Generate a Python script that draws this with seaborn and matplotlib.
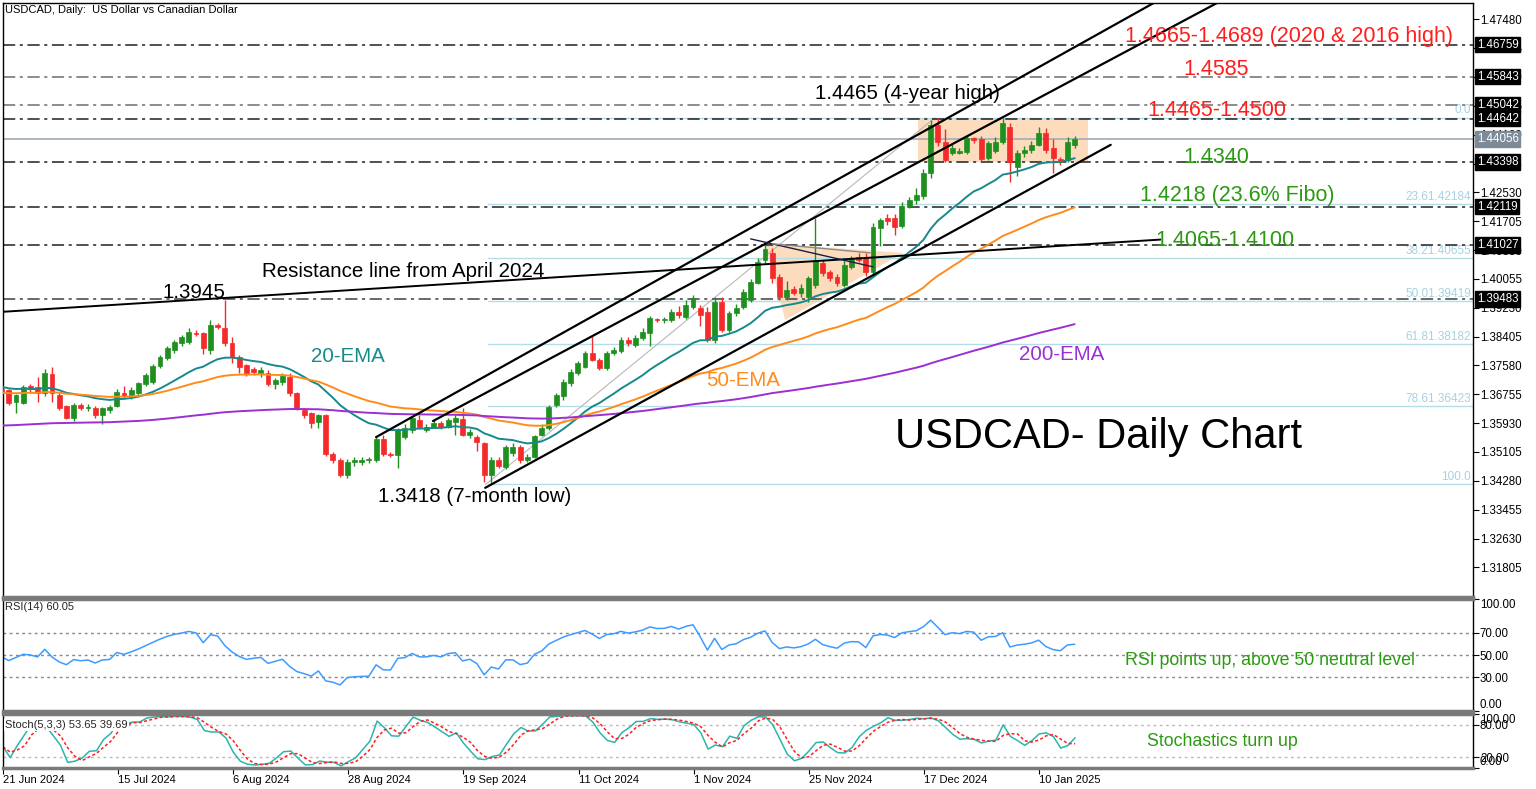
import numpy as np
import pandas as pd
import matplotlib
matplotlib.use('Agg')
import matplotlib.pyplot as plt
import matplotlib.transforms as mtransforms
from matplotlib.patches import Rectangle, Polygon
import seaborn as sns

sns.set_theme(style='white')
plt.rcParams['font.family'] = ['Liberation Sans', 'DejaVu Sans']

# daily candles, 21 Jun 2024 -> 17 Jan 2025 (bar index = trading day)
opens = [1.3690, 1.3688, 1.3654, 1.3650, 1.3699, 1.3697, 1.3678, 1.3733, 1.3673, 1.3642,
         1.3607, 1.3645, 1.3635, 1.3637, 1.3616, 1.3630, 1.3642, 1.3680, 1.3669, 1.3678,
         1.3705, 1.3711, 1.3756, 1.3780, 1.3802, 1.3823, 1.3826, 1.3852, 1.3850, 1.3802,
         1.3873, 1.3864, 1.3823, 1.3783, 1.3759, 1.3747, 1.3735, 1.3735, 1.3705, 1.3711,
         1.3726, 1.3678, 1.3631, 1.3621, 1.3597, 1.3616, 1.3506, 1.3487, 1.3444, 1.3483,
         1.3483, 1.3487, 1.3487, 1.3549, 1.3506, 1.3502, 1.3554, 1.3573, 1.3602, 1.3573,
         1.3583, 1.3594, 1.3583, 1.3597, 1.3604, 1.3559, 1.3554, 1.3535, 1.3445, 1.3489,
         1.3468, 1.3509, 1.3526, 1.3488, 1.3497, 1.3558, 1.3578, 1.3645, 1.3670, 1.3707,
         1.3735, 1.3755, 1.3793, 1.3774, 1.3750, 1.3793, 1.3798, 1.3831, 1.3817, 1.3836,
         1.3850, 1.3890, 1.3887, 1.3888, 1.3912, 1.3898, 1.3926, 1.3921, 1.3912, 1.3831,
         1.3940, 1.3860, 1.3907, 1.3926, 1.3945, 1.3993, 1.4060, 1.4079, 1.4012, 1.3955,
         1.3976, 1.3965, 1.3955, 1.3988, 1.4050, 1.4026, 1.4012, 1.3988, 1.4041, 1.4067,
         1.4065, 1.4024, 1.4150, 1.4180, 1.4180, 1.4158, 1.4215, 1.4230, 1.4243, 1.4307,
         1.4446, 1.4398, 1.4365, 1.4367, 1.4369, 1.4408, 1.4405, 1.4350, 1.4370, 1.4398,
         1.4439, 1.4327, 1.4365, 1.4374, 1.4389, 1.4422, 1.4379, 1.4348, 1.4346, 1.4388]
highs = [1.3700, 1.3692, 1.3676, 1.3702, 1.3705, 1.3726, 1.3747, 1.3754, 1.3680, 1.3645,
         1.3650, 1.3650, 1.3648, 1.3642, 1.3640, 1.3645, 1.3690, 1.3700, 1.3695, 1.3712,
         1.3736, 1.3762, 1.3788, 1.3815, 1.3830, 1.3845, 1.3865, 1.3860, 1.3855, 1.3888,
         1.3880, 1.3946, 1.3840, 1.3788, 1.3762, 1.3755, 1.3755, 1.3745, 1.3722, 1.3735,
         1.3735, 1.3682, 1.3636, 1.3625, 1.3620, 1.3620, 1.3510, 1.3492, 1.3490, 1.3495,
         1.3495, 1.3496, 1.3555, 1.3560, 1.3510, 1.3578, 1.3590, 1.3612, 1.3615, 1.3590,
         1.3605, 1.3600, 1.3608, 1.3615, 1.3637, 1.3575, 1.3560, 1.3540, 1.3495, 1.3495,
         1.3530, 1.3535, 1.3530, 1.3505, 1.3560, 1.3590, 1.3645, 1.3680, 1.3718, 1.3748,
         1.3770, 1.3800, 1.3845, 1.3778, 1.3798, 1.3810, 1.3840, 1.3838, 1.3845, 1.3865,
         1.3900, 1.3895, 1.3898, 1.3920, 1.3928, 1.3945, 1.3960, 1.3930, 1.3925, 1.3955,
         1.3955, 1.3915, 1.3935, 1.3978, 1.4005, 1.4065, 1.4105, 1.4095, 1.4020, 1.4000,
         1.3985, 1.3990, 1.4015, 1.4179, 1.4060, 1.4032, 1.4020, 1.4065, 1.4072, 1.4080,
         1.4080, 1.4165, 1.4180, 1.4190, 1.4190, 1.4225, 1.4240, 1.4265, 1.4320, 1.4460,
         1.4467, 1.4433, 1.4395, 1.4380, 1.4415, 1.4412, 1.4415, 1.4400, 1.4410, 1.4465,
         1.4450, 1.4375, 1.4385, 1.4400, 1.4440, 1.4437, 1.4407, 1.4355, 1.4410, 1.4415]
lows = [1.3672, 1.3645, 1.3621, 1.3648, 1.3680, 1.3654, 1.3670, 1.3654, 1.3630, 1.3605,
        1.3600, 1.3630, 1.3628, 1.3608, 1.3590, 1.3622, 1.3638, 1.3665, 1.3662, 1.3672,
        1.3700, 1.3705, 1.3750, 1.3775, 1.3795, 1.3815, 1.3820, 1.3842, 1.3790, 1.3792,
        1.3862, 1.3815, 1.3765, 1.3735, 1.3728, 1.3730, 1.3725, 1.3700, 1.3690, 1.3702,
        1.3672, 1.3630, 1.3608, 1.3580, 1.3580, 1.3500, 1.3478, 1.3438, 1.3436, 1.3470,
        1.3472, 1.3480, 1.3482, 1.3498, 1.3495, 1.3466, 1.3548, 1.3565, 1.3578, 1.3568,
        1.3578, 1.3575, 1.3578, 1.3560, 1.3555, 1.3550, 1.3512, 1.3425, 1.3418, 1.3465,
        1.3462, 1.3500, 1.3480, 1.3482, 1.3492, 1.3555, 1.3572, 1.3640, 1.3660, 1.3700,
        1.3730, 1.3750, 1.3770, 1.3745, 1.3745, 1.3788, 1.3795, 1.3815, 1.3810, 1.3830,
        1.3815, 1.3882, 1.3880, 1.3882, 1.3895, 1.3892, 1.3920, 1.3872, 1.3825, 1.3822,
        1.3855, 1.3855, 1.3900, 1.3920, 1.3940, 1.3990, 1.4050, 1.3995, 1.3945, 1.3945,
        1.3960, 1.3955, 1.3940, 1.3980, 1.4015, 1.4000, 1.3985, 1.3982, 1.4035, 1.4055,
        1.4015, 1.4018, 1.4100, 1.4160, 1.4130, 1.4150, 1.4208, 1.4220, 1.4235, 1.4295,
        1.4385, 1.4341, 1.4360, 1.4362, 1.4362, 1.4395, 1.4342, 1.4345, 1.4365, 1.4392,
        1.4284, 1.4300, 1.4355, 1.4365, 1.4385, 1.4365, 1.4308, 1.4330, 1.4340, 1.4380]
closes = [1.3683, 1.3650, 1.3673, 1.3697, 1.3692, 1.3678, 1.3735, 1.3678, 1.3635, 1.3609,
          1.3645, 1.3635, 1.3640, 1.3616, 1.3635, 1.3638, 1.3683, 1.3671, 1.3688, 1.3707,
          1.3731, 1.3756, 1.3783, 1.3807, 1.3826, 1.3838, 1.3854, 1.3848, 1.3807, 1.3875,
          1.3869, 1.3821, 1.3783, 1.3754, 1.3733, 1.3740, 1.3745, 1.3705, 1.3716, 1.3727,
          1.3678, 1.3635, 1.3616, 1.3592, 1.3616, 1.3506, 1.3487, 1.3444, 1.3483, 1.3487,
          1.3489, 1.3490, 1.3549, 1.3504, 1.3502, 1.3573, 1.3578, 1.3607, 1.3583, 1.3583,
          1.3592, 1.3583, 1.3602, 1.3607, 1.3559, 1.3568, 1.3540, 1.3445, 1.3488, 1.3470,
          1.3526, 1.3526, 1.3488, 1.3497, 1.3555, 1.3580, 1.3640, 1.3674, 1.3712, 1.3740,
          1.3764, 1.3793, 1.3774, 1.3750, 1.3793, 1.3802, 1.3831, 1.3822, 1.3836, 1.3855,
          1.3895, 1.3888, 1.3890, 1.3912, 1.3902, 1.3931, 1.3950, 1.3902, 1.3831, 1.3940,
          1.3860, 1.3907, 1.3921, 1.3969, 1.3998, 1.4055, 1.4090, 1.4007, 1.3955, 1.3974,
          1.3966, 1.3979, 1.4007, 1.4060, 1.4022, 1.4007, 1.3995, 1.4046, 1.4062, 1.4060,
          1.4024, 1.4155, 1.4174, 1.4170, 1.4155, 1.4215, 1.4232, 1.4245, 1.4307, 1.4446,
          1.4398, 1.4346, 1.4379, 1.4372, 1.4408, 1.4403, 1.4348, 1.4393, 1.4398, 1.4450,
          1.4341, 1.4365, 1.4374, 1.4389, 1.4422, 1.4374, 1.4350, 1.4341, 1.4398, 1.4405]

date_ticks = [0, 16, 32, 48, 64, 80, 96, 112, 128, 144]
date_labels = ['21 Jun 2024', '15 Jul 2024', '6 Aug 2024', '28 Aug 2024', '19 Sep 2024',
               '11 Oct 2024', '1 Nov 2024', '25 Nov 2024', '17 Dec 2024', '10 Jan 2025']

price_ticks = [1.31805, 1.32630, 1.33455, 1.34280, 1.35105, 1.35930, 1.36755, 1.37580,
               1.38405, 1.39230, 1.40055, 1.40880, 1.41705, 1.42530, 1.43355, 1.44180,
               1.45005, 1.45830, 1.46655, 1.47480]
level_lines = [1.46759, 1.45843, 1.45042, 1.44642, 1.43398, 1.42119, 1.41027, 1.39483]
level_colors = ['#202020', '#6e6e6e', '#6e6e6e', '#202020', '#202020', '#202020', '#202020', '#404040']
last_price = 1.44056

fib_levels = [1.44665, 1.42184, 1.40655, 1.39419, 1.38182, 1.36423, 1.34176]
fib_labels = ['0.0', '23.61.42184', '38.21.40655', '50.01.39419', '61.81.38182', '78.61.36423', '100.0']

# indicator seeds read at the left edge of the chart
ema_seeds = {20: 1.3697, 50: 1.3680, 200: 1.3586}

df = pd.DataFrame({'bar': np.arange(len(closes)), 'open': opens, 'high': highs,
                   'low': lows, 'close': closes})


def ema(values, period, seed):
    a = 2 / (period + 1)
    out = [seed]
    for v in values[1:]:
        out.append(out[-1] + a * (v - out[-1]))
    return out


def rsi(values, period=14, g0=0.0016, l0=0.0017):
    ag, al = g0, l0
    out = [100 - 100 / (1 + ag / al)]
    for prev, cur in zip(values[:-1], values[1:]):
        ch = cur - prev
        ag = (ag * (period - 1) + max(ch, 0)) / period
        al = (al * (period - 1) + max(-ch, 0)) / period
        out.append(100 - 100 / (1 + ag / al))
    return out


for p, s in ema_seeds.items():
    df[f'ema{p}'] = ema(closes, p, s)
df['rsi'] = rsi(closes)
ll = df['low'].rolling(5, min_periods=1).min()
hh = df['high'].rolling(5, min_periods=1).max()
df['k'] = 100 * (df['close'] - ll).rolling(3, min_periods=1).sum() / (hh - ll).rolling(3, min_periods=1).sum()
df['d'] = df['k'].rolling(3, min_periods=1).mean()

# ---------------- figure layout (pixel based) ----------------
W, H = 1536, 789
fig = plt.figure(figsize=(W / 100, H / 100), dpi=100)
L, R = 3, 1473
ax = fig.add_axes([L / W, 1 - 597 / H, (R - L) / W, 594 / H])
ax_rsi = fig.add_axes([L / W, 1 - 711 / H, (R - L) / W, 112 / H])
ax_sto = fig.add_axes([L / W, 1 - 768 / H, (R - L) / W, 54 / H])

xlim = (0.2, 204.3)
ax.set_xlim(*xlim)
ax.set_ylim(1.30958, 1.47946)

GREEN_C = '#1f8f1f'
RED_C = '#f52a2a'
ANN_GREEN = '#2a9a12'

# shaded areas
ax.add_patch(Rectangle((127.3, 1.4340), 23.6, 1.4465 - 1.4340, fc='#fcdcbc', ec='none', zorder=1))
ax.add_patch(Polygon([(106.0, 1.4108), (125.2, 1.4080), (108.8, 1.3888)], closed=True,
                     fc='#fcdcbc', ec='none', zorder=1))

# fibonacci retracement
for lv, lab in zip(fib_levels, fib_labels):
    ax.plot([67.5, xlim[1]], [lv, lv], color='#b4dde8', lw=1, zorder=1)
    ax.text(xlim[1] - 0.3, lv + 0.0004, lab, color='#a6d2e2', fontsize=8.5, ha='right', va='bottom', zorder=2)
ax.plot([67.2, 129.6], [1.34176, 1.44665], color='#b8b8b8', lw=0.8, zorder=2)

# horizontal levels
for lv, col in zip(level_lines, level_colors):
    ax.plot(list(xlim), [lv, lv], color=col, lw=1.1, linestyle=(0, (8, 3, 2, 3)), zorder=2)
ax.plot(list(xlim), [last_price, last_price], color='#a7b1bb', lw=1.3, zorder=2)

# candles
up = df['close'] >= df['open']
cols = np.where(up, GREEN_C, RED_C)
ax.vlines(df['bar'], df['low'], df['high'], colors=cols, lw=1, zorder=3)
body_lo = np.minimum(df['open'], df['close'])
body_h = np.maximum(np.abs(df['close'] - df['open']), 0.00012)
ax.bar(df['bar'], body_h, bottom=body_lo, width=0.68, color=cols, edgecolor=cols, lw=0.5, zorder=3)

# moving averages
sns.lineplot(data=df, x='bar', y='ema20', ax=ax, color='#16898c', lw=1.4, zorder=4)
sns.lineplot(data=df, x='bar', y='ema50', ax=ax, color='#ff8c1a', lw=1.4, zorder=4)
sns.lineplot(data=df, x='bar', y='ema200', ax=ax, color='#9b2fd4', lw=1.4, zorder=4)

# trend lines and channel
ax.plot([-0.2, 160.9], [1.3911, 1.4118], color='black', lw=1.4, zorder=5)
ax.plot([52.0, 160.0], [1.3553, 1.4795], color='black', lw=1.6, zorder=5)
ax.plot([59.9, 168.7], [1.3599, 1.4794], color='black', lw=1.6, zorder=5)
ax.plot([67.15, 154.0], [1.3408, 1.4389], color='black', lw=1.6, zorder=5)
ax.plot([104.0, 121.0], [1.4120, 1.4040], color='#1c1c48', lw=1, zorder=5)
ax.plot([107.0, 120.6], [1.4106, 1.4080], color='#8a8a8a', lw=1, zorder=5)

# annotations
def note(x, y, s, color='black', size=14.8, **kw):
    ax.text(x, y, s, color=color, fontsize=size, ha='left', va='center', zorder=6, **kw)

note(156.0, 1.4700, '1.4665-1.4689 (2020 & 2016 high)', '#ff1e1e', 15.5)
note(164.1, 1.4603, '1.4585', '#ff1e1e', 15.5)
note(113.0, 1.4537, '1.4465 (4-year high)')
note(159.1, 1.4488, '1.4465-1.4500', '#ff1e1e', 15.5)
note(164.1, 1.4354, '1.4340', ANN_GREEN, 15.5)
note(158.1, 1.4243, '1.4218 (23.6% Fibo)', ANN_GREEN, 15.5)
note(160.2, 1.4114, '1.4065-1.4100', ANN_GREEN, 15.5)
note(36.2, 1.4028, 'Resistance line from April 2024')
note(22.3, 1.3968, '1.3945')
note(43.0, 1.3785, '20-EMA', '#168a8c')
note(97.8, 1.3714, '50-EMA', '#ff8c1a')
note(141.2, 1.3788, '200-EMA', '#9b2fd4')
note(124.1, 1.3554, 'USDCAD- Daily Chart', 'black', 30)
note(52.2, 1.3382, '1.3418 (7-month low)')
ax.text(0.0015, 0.988, 'USDCAD, Daily:  US Dollar vs Canadian Dollar', transform=ax.transAxes,
        fontsize=8, ha='left', va='center', color='black')

# right price axis
ax.yaxis.tick_right()
ax.set_yticks(price_ticks)
ax.set_yticklabels([f'{v:.5f}' for v in price_ticks])
trans = mtransforms.blended_transform_factory(ax.transAxes, ax.transData)
box_kw = dict(fontsize=8.3, ha='left', va='center', transform=trans, zorder=10, clip_on=False)
for lv in level_lines:
    ax.text(1.0025, lv, f'{lv:.5f}', color='white',
            bbox=dict(fc='black', ec='black', pad=1.2), **box_kw)
ax.text(1.0025, last_price, f'{last_price:.5f}', color='white',
        bbox=dict(fc='#7d8b99', ec='#7d8b99', pad=1.2), **box_kw)

# RSI panel
ax_rsi.set_xlim(*xlim)
ax_rsi.set_ylim(0, 100)
for lv in (70, 50, 30):
    ax_rsi.axhline(lv, color='#888888', lw=1, linestyle=(0, (2, 2.5)))
sns.lineplot(data=df, x='bar', y='rsi', ax=ax_rsi, color='#3d9bff', lw=1.1)
ax_rsi.text(0.0015, 0.93, 'RSI(14) 60.05', transform=ax_rsi.transAxes, fontsize=8, va='center')
ax_rsi.text(0.763, 0.45, 'RSI points up, above 50 neutral level', transform=ax_rsi.transAxes,
            fontsize=12.8, color=ANN_GREEN, va='center')
ax_rsi.yaxis.tick_right()
ax_rsi.set_yticks([0, 30, 50, 70, 100])
ax_rsi.set_yticklabels(['0.00', '30.00', '50.00', '70.00', '100.00'])

# Stochastic panel
ax_sto.set_xlim(*xlim)
ax_sto.set_ylim(0, 100)
for lv in (80, 20):
    ax_sto.axhline(lv, color='#bbbbbb', lw=1, linestyle=(0, (2, 2.5)))
sns.lineplot(data=df, x='bar', y='k', ax=ax_sto, color='#2bb5ac', lw=1.1)
sns.lineplot(data=df, x='bar', y='d', ax=ax_sto, color='#ff2020', lw=1.1, linestyle=(0, (2, 1.5)))
ax_sto.text(0.0015, 0.8, 'Stoch(5,3,3) 53.65 39.69', transform=ax_sto.transAxes, fontsize=8,
            va='center', bbox=dict(fc='white', ec='none', pad=0.8))
ax_sto.text(0.778, 0.5, 'Stochastics turn up', transform=ax_sto.transAxes,
            fontsize=12.8, color=ANN_GREEN, va='center')
ax_sto.yaxis.tick_right()
ax_sto.set_yticks([0, 20, 80, 100])
ax_sto.set_yticklabels(['0.00', '20.00', '80.00', '100.00'])
ax_sto.set_xticks(date_ticks)
ax_sto.set_xticklabels(date_labels, ha='left')

# common styling
for a in (ax, ax_rsi, ax_sto):
    a.set_xlabel('')
    a.set_ylabel('')
    a.set_facecolor('white')
    a.grid(False)
    a.tick_params(axis='y', which='both', right=True, left=False, length=4, width=0.8,
                  pad=1, labelsize=8.3, colors='black')
    for side in ('left', 'right', 'top'):
        a.spines[side].set_color('black')
        a.spines[side].set_linewidth(1)
    a.spines['bottom'].set_color('#7a7a7a')
    a.spines['bottom'].set_linewidth(2.5)
for a in (ax_rsi, ax_sto):
    a.spines['top'].set_color('#7a7a7a')
    a.spines['top'].set_linewidth(2.5)
ax.tick_params(axis='x', bottom=False, labelbottom=False)
ax_rsi.tick_params(axis='x', bottom=False, labelbottom=False)
ax_sto.tick_params(axis='x', bottom=True, length=4, width=0.8, pad=1, labelsize=8, colors='black')
for lab in ax_rsi.get_yticklabels():
    if lab.get_text() == '100.00':
        lab.set_va('top')
    if lab.get_text() == '0.00':
        lab.set_va('bottom')
for lab in ax_sto.get_yticklabels():
    if lab.get_text() == '100.00':
        lab.set_va('top')
    if lab.get_text() == '0.00':
        lab.set_va('bottom')

fig.savefig('out.png', dpi=100)
